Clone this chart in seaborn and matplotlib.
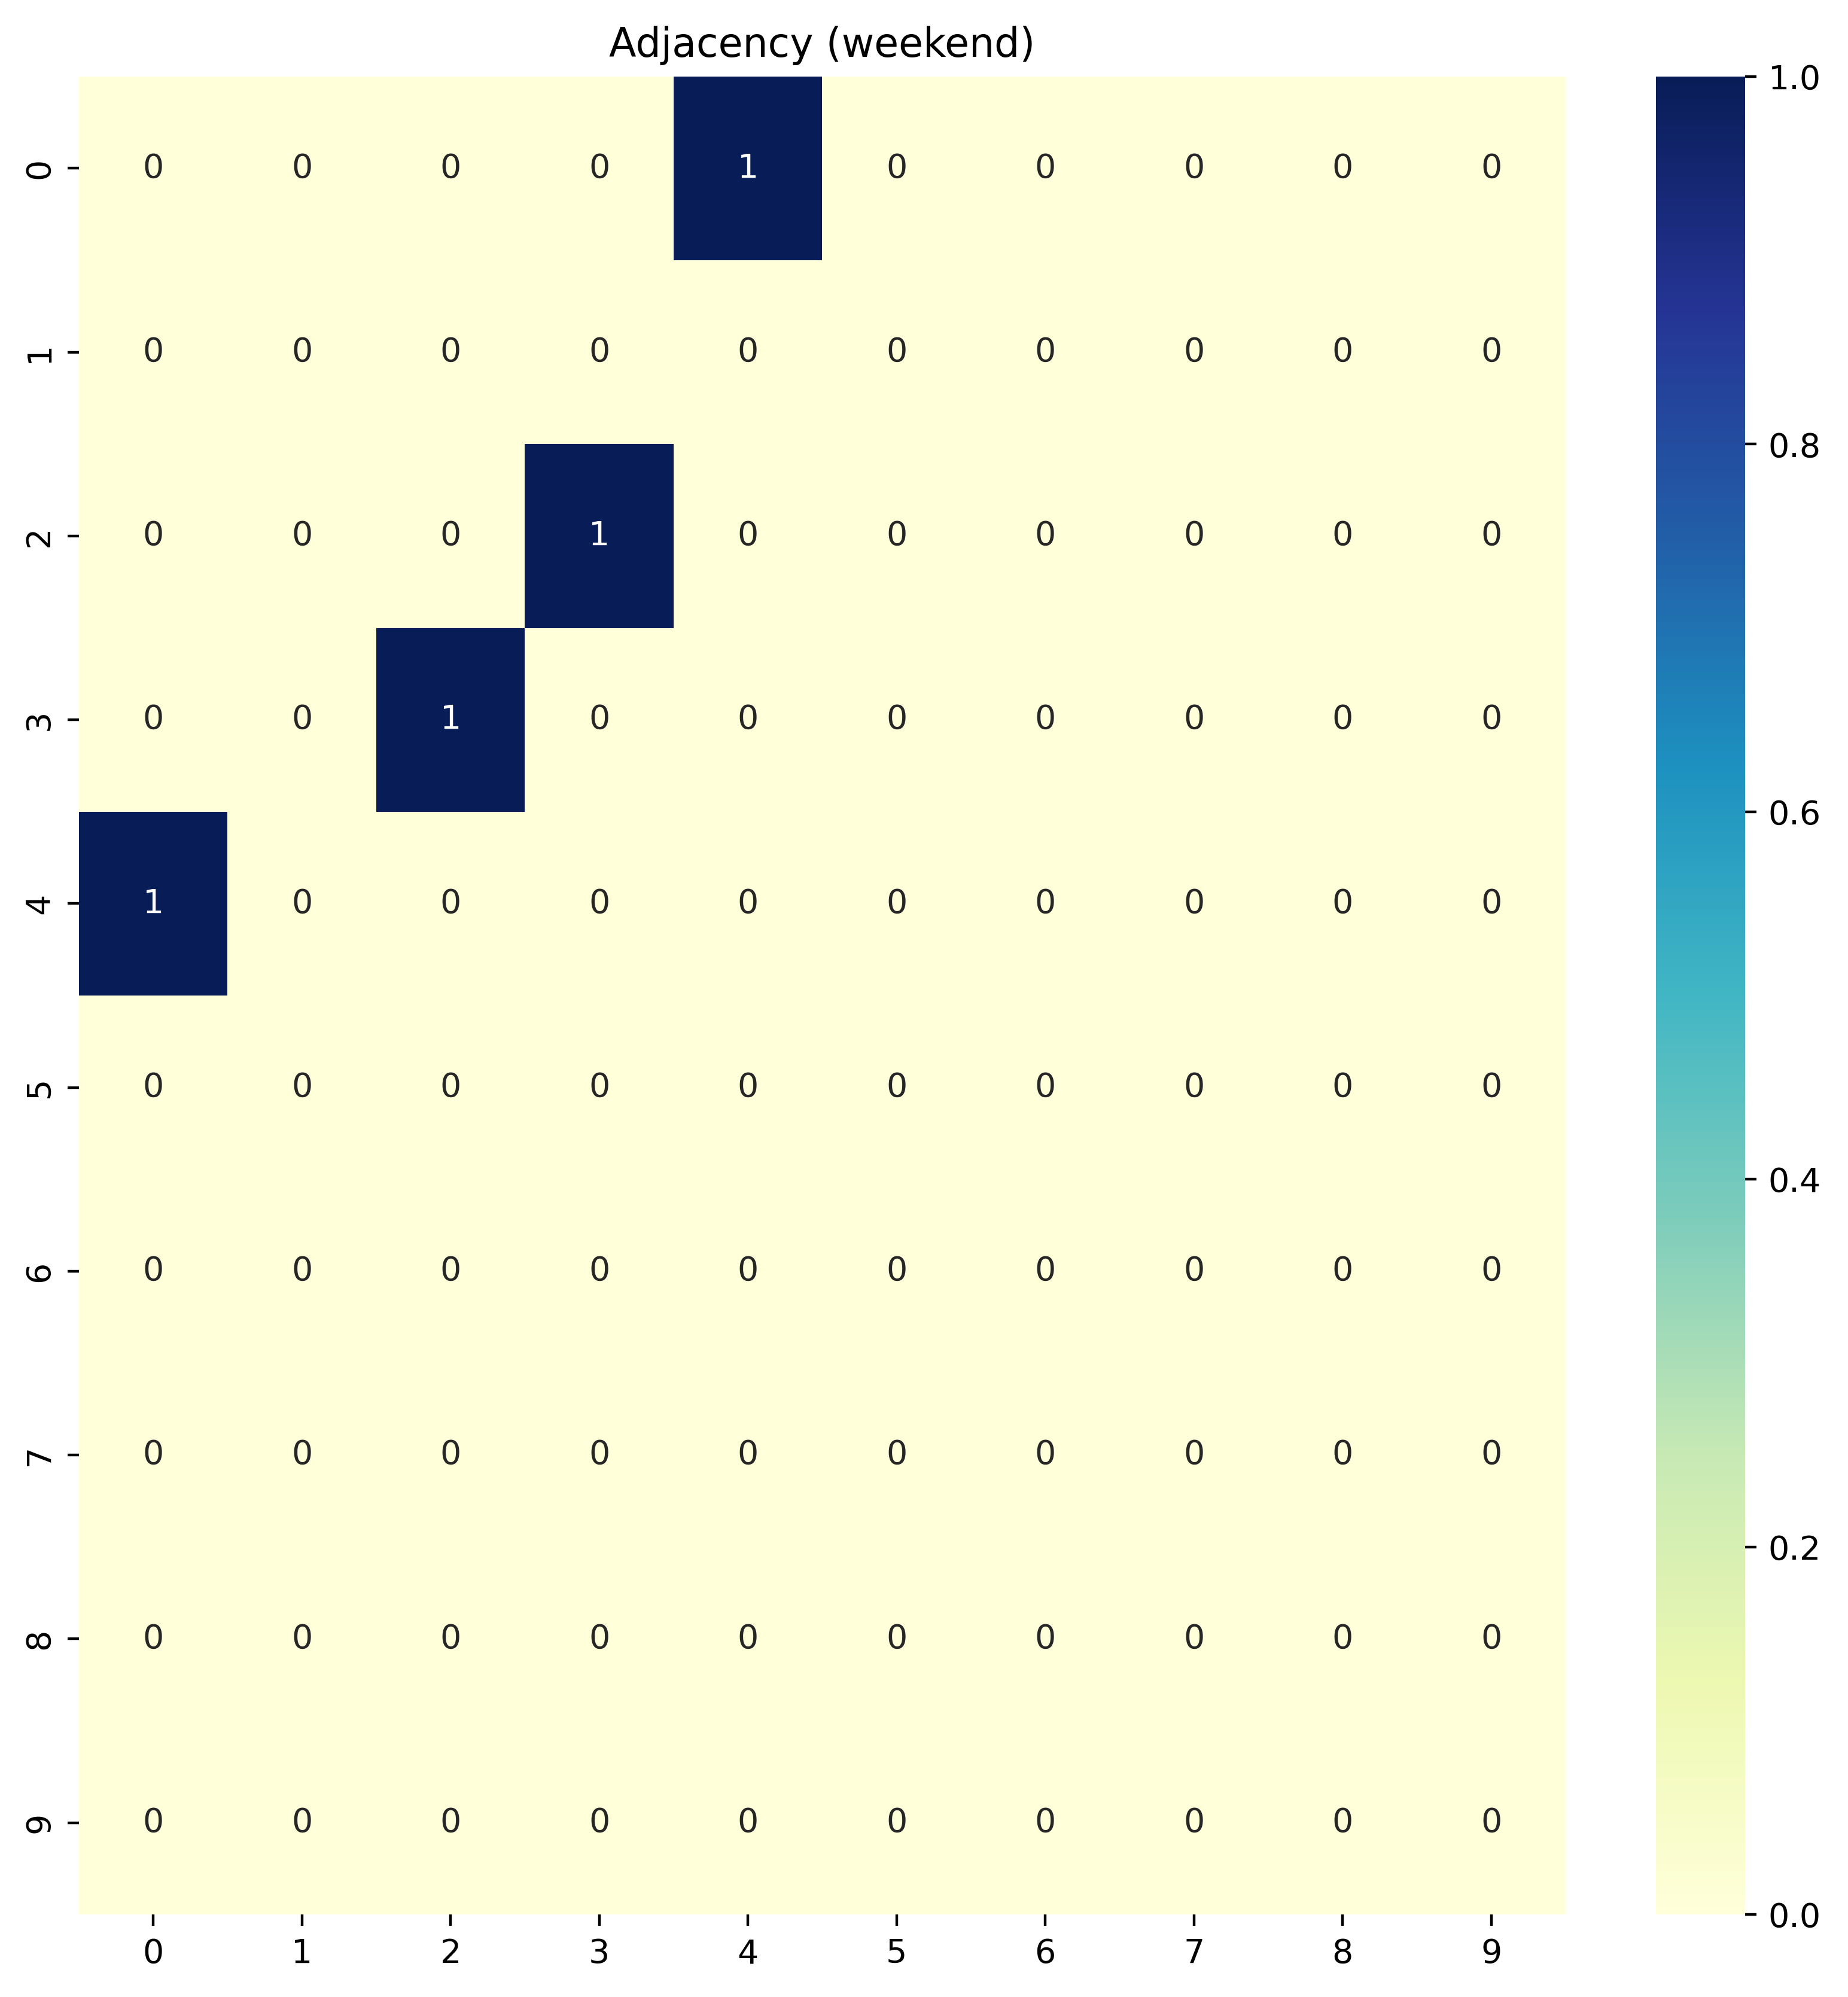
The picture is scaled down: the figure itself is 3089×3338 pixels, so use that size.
import matplotlib
matplotlib.use("Agg")
import matplotlib.pyplot as plt
import seaborn as sns
import numpy as np
import pandas as pd

nodes = list(range(10))
# edges present on the weekend (row, col)
edge_rows = [0, 2, 3, 4]
edge_cols = [4, 3, 2, 0]

adj = np.zeros((len(nodes), len(nodes)), dtype=int)
adj[edge_rows, edge_cols] = 1
df = pd.DataFrame(adj, index=nodes, columns=nodes)

fig = plt.figure(figsize=(3089 / 400, 3338 / 400), dpi=400)
ax = fig.add_axes([0.0427, 0.0413, 0.8045, 0.9204])
cax = fig.add_axes([0.896, 0.0413, 0.0482, 0.9204])

sns.heatmap(df, annot=True, fmt="d", cmap="YlGnBu", ax=ax, cbar_ax=cax)
ax.set_title("Adjacency (weekend)")

fig.savefig("out.png", dpi=400)
